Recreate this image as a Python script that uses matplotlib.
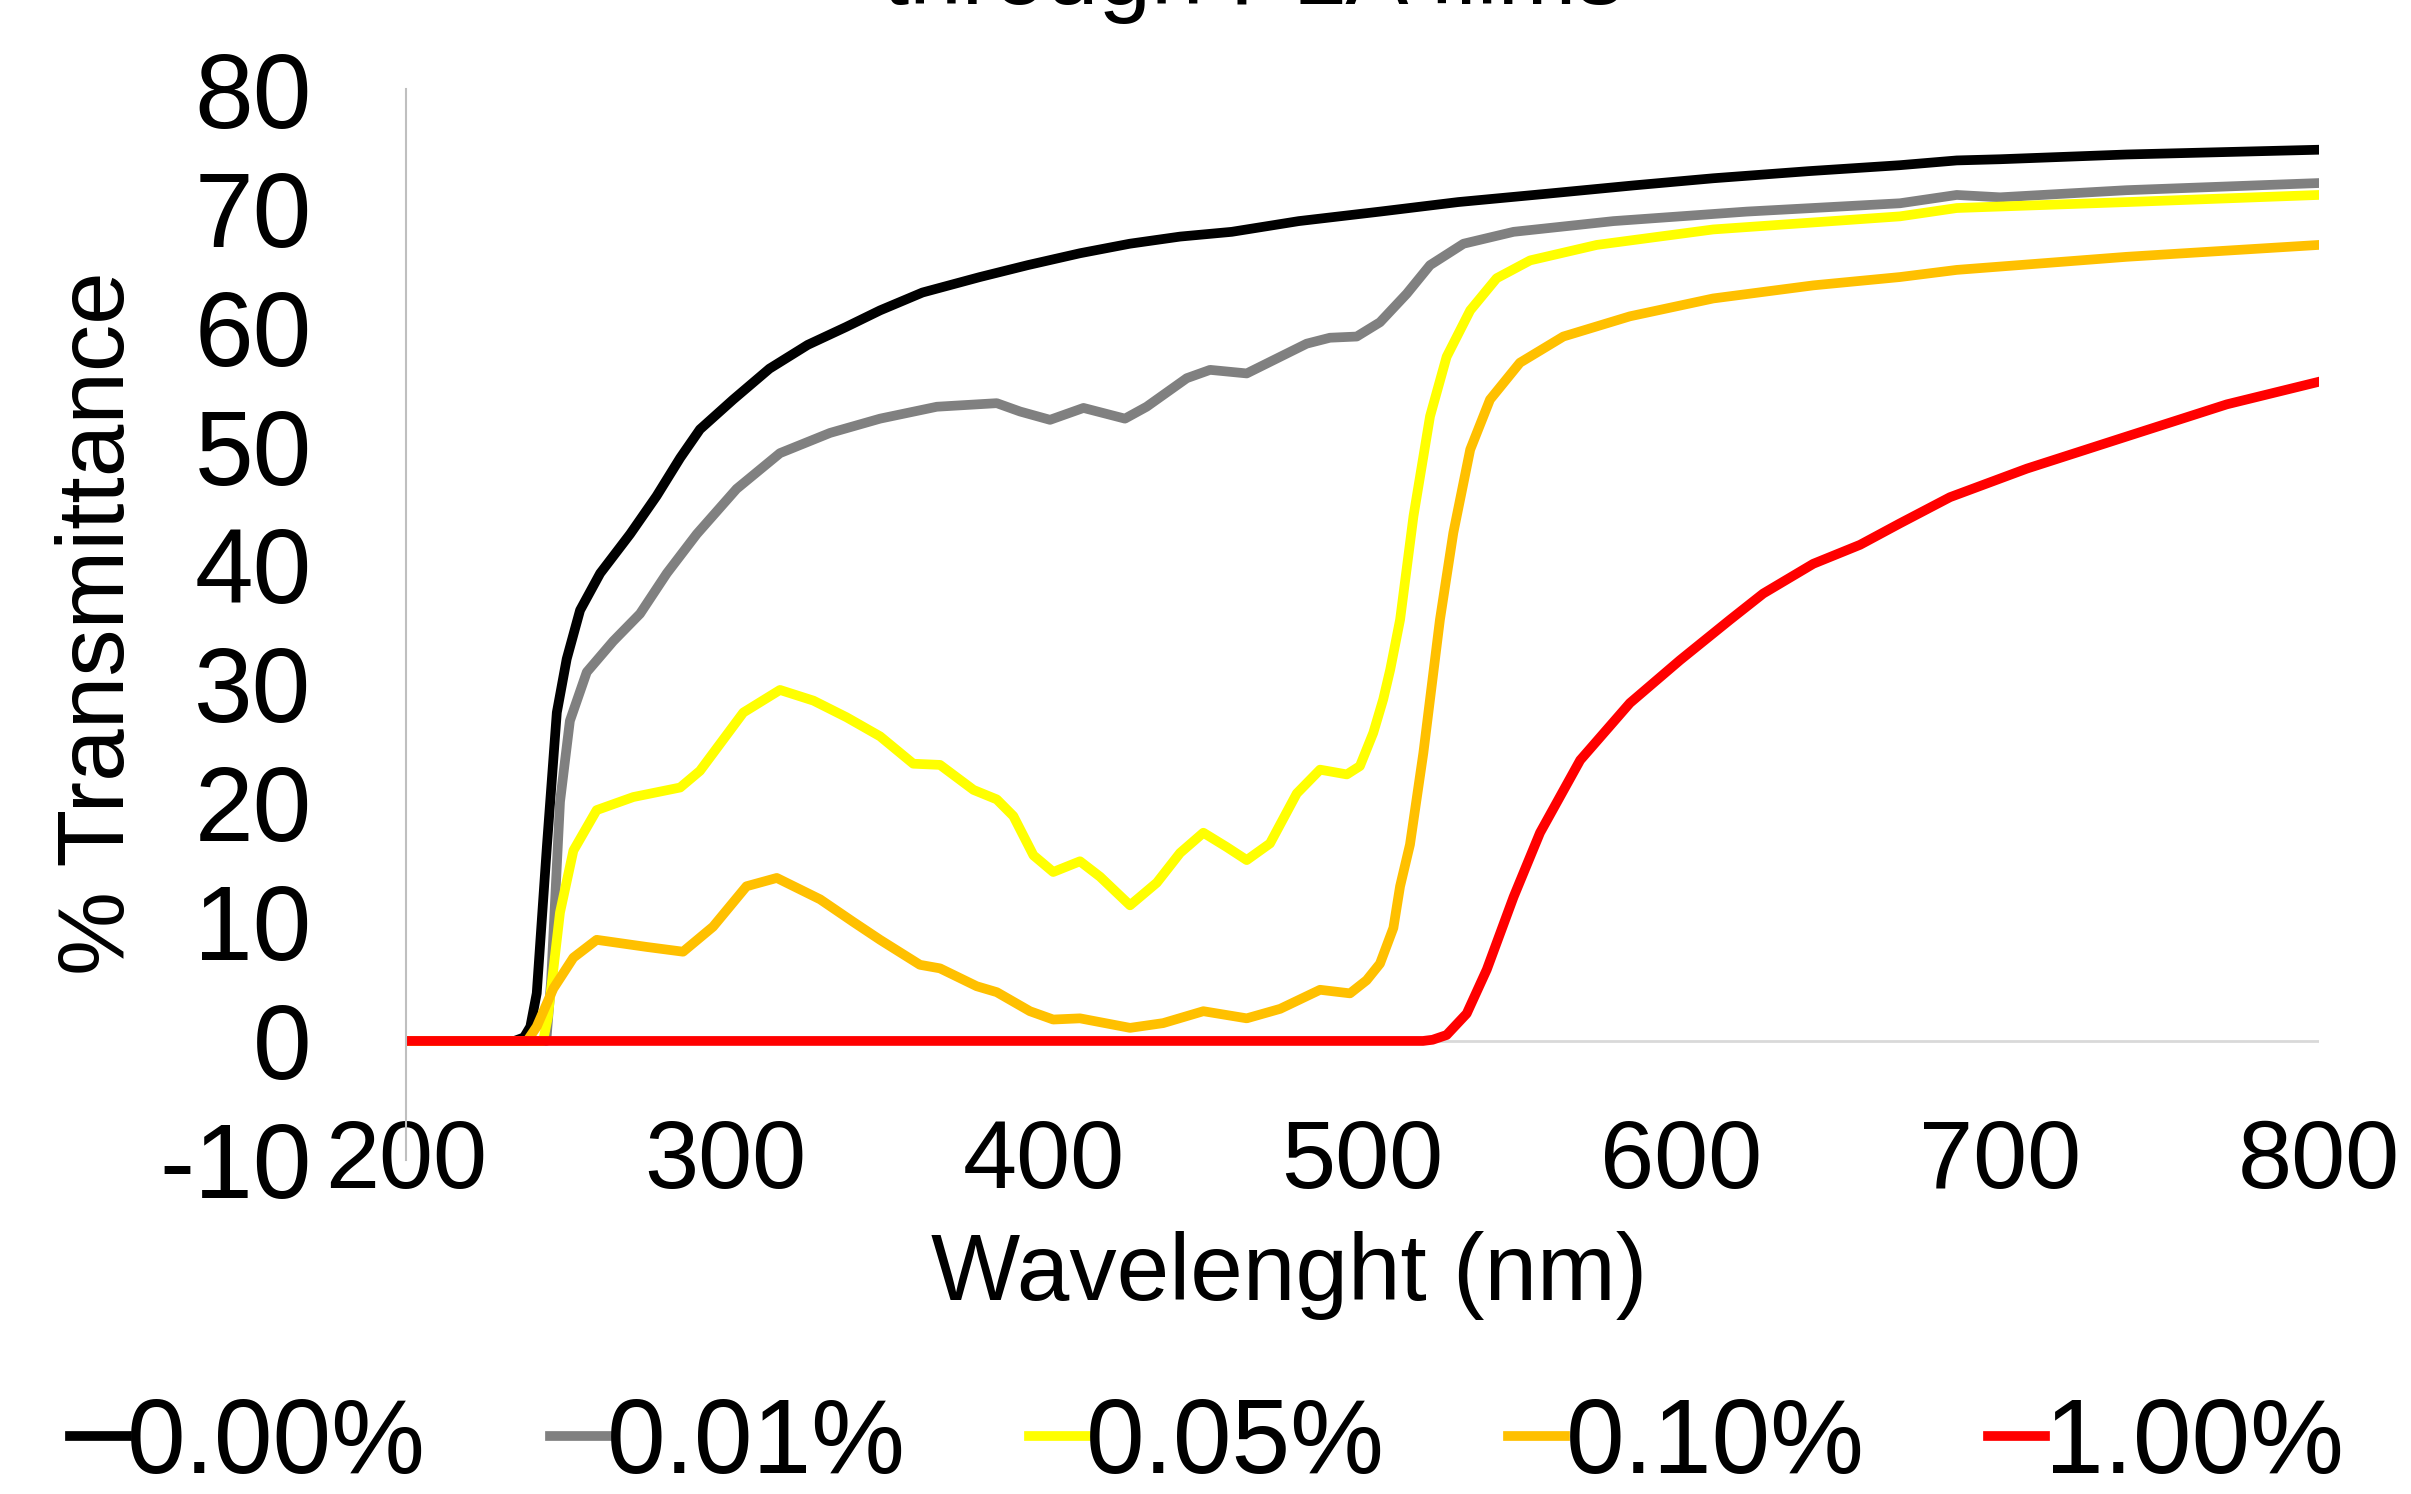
import matplotlib
matplotlib.use('Agg')
import matplotlib.pyplot as plt

# transmittance curves
wl_000 = [200, 234, 237, 239, 241, 244.2, 247.3, 250.4, 254.6, 260.9, 270.3, 278.6, 286, 292.2,
          302.6, 314, 326, 338, 348.7, 362, 380, 395, 411.4, 427, 442.8, 459, 480, 505.5, 530,
          557.8, 585, 610, 640, 668.6, 686.4, 700, 739.7, 770, 800]
t_000 = [0, 0, 0.3, 1.2, 4.0, 16.4, 27.6, 32.1, 36.2, 39.3, 42.6, 45.8, 49, 51.4,
         53.9, 56.5, 58.5, 60, 61.4, 62.9, 64.2, 65.2, 66.2, 67.0, 67.6, 68.0, 68.9, 69.7, 70.5,
         71.2, 71.9, 72.5, 73.1, 73.6, 74.0, 74.1, 74.5, 74.7, 74.9]

wl_001 = [200, 244, 245.5, 248.3, 251.4, 256.7, 265, 273.4, 281.8, 291.2, 303.7, 317.3, 333,
          348.7, 366.5, 385.3, 392.6, 402, 412.5, 425.5, 432.3, 444.9, 452.2, 463.7, 482.5,
          489.8, 498.2, 505.5, 513.9, 521.2, 531.7, 547.4, 578.7, 620.5, 668.6, 686.4, 700,
          739.7, 800]
t_001 = [0, 0, 5, 20.1, 26.9, 31, 33.6, 35.9, 39.3, 42.6, 46.4, 49.4, 51.1,
         52.3, 53.3, 53.6, 52.9, 52.2, 53.2, 52.3, 53.3, 55.7, 56.4, 56.1, 58.6,
         59.1, 59.2, 60.4, 62.8, 65.2, 67, 68, 68.9, 69.7, 70.4, 71.1, 70.9,
         71.5, 72.1]

wl_005 = [200, 243, 244.5, 246, 248.3, 252.5, 259.8, 271.3, 286, 292.2, 305.8, 317.3, 327.8,
          338.2, 348.7, 359.1, 367.5, 378, 385.3, 390.5, 396.8, 403, 411.4, 417.7, 427.1,
          435.5, 442.8, 450.1, 457.4, 463.7, 471, 479.4, 486.7, 495.1, 499.2, 503.4, 506.5,
          508.7, 511.8, 516, 521.2, 526.4, 533.8, 542.1, 552.6, 573.5, 610, 668.6, 686.4,
          739.7, 800]
t_005 = [0, 0, 2, 5.5, 10.8, 16, 19.4, 20.5, 21.3, 22.7, 27.6, 29.5, 28.6,
         27.2, 25.6, 23.3, 23.2, 21.1, 20.3, 18.9, 15.6, 14.2, 15.1, 13.8, 11.4,
         13.3, 15.8, 17.5, 16.3, 15.2, 16.6, 20.8, 22.8, 22.4, 23.1, 25.9, 28.7,
         31.2, 35.4, 44.1, 52.5, 57.5, 61.4, 64.1, 65.6, 66.9, 68.2, 69.3, 70.0,
         70.5, 71.1]

wl_010 = [200, 238, 241, 246.2, 252.5, 259.8, 275.5, 286.9, 296.3, 306.8, 316.3, 329.9, 340.3,
          348.7, 361.2, 367.5, 379, 385.3, 395.7, 403, 411.4, 427.1, 437.5, 450.1, 463.7,
          474.2, 486.7, 496.1, 501.3, 505.5, 509.7, 511.8, 514.9, 519.1, 524.3, 528.5, 533.8,
          540, 549.4, 563, 583.9, 610, 641.4, 668.6, 686.4, 739.7, 800]
t_010 = [0, 0, 1.2, 4.4, 7, 8.5, 7.9, 7.5, 9.6, 13, 13.7, 11.9, 10,
         8.5, 6.4, 6.1, 4.6, 4.1, 2.5, 1.8, 1.9, 1.1, 1.5, 2.5, 1.9,
         2.7, 4.3, 4.0, 5.1, 6.5, 9.5, 13, 16.5, 24.2, 35.4, 42.7, 49.7,
         53.9, 57, 59.2, 60.9, 62.4, 63.5, 64.2, 64.8, 65.9, 66.9]

wl_100 = [200, 519, 522, 526.4, 532.7, 539, 547.4, 555.7, 568.3, 583.9, 599.6, 615.3, 625.7,
          641.4, 656.1, 668.6, 684.3, 708.4, 739.7, 771.1, 800]
t_100 = [0, 0, 0.1, 0.5, 2.3, 6, 12.1, 17.5, 23.6, 28.4, 32, 35.4, 37.6,
         40.1, 41.7, 43.5, 45.7, 48.1, 50.8, 53.5, 55.4]

labels = ['0.00%', '0.01%', '0.05%', '0.10%', '1.00%']
colors = ['#000000', '#808080', '#FFFF00', '#FFC000', '#FF0000']
series = [(wl_000, t_000), (wl_001, t_001), (wl_005, t_005), (wl_010, t_010), (wl_100, t_100)]

x_ticks = [200, 300, 400, 500, 600, 700, 800]
y_ticks = [-10, 0, 10, 20, 30, 40, 50, 60, 70, 80]

plt.rcParams['font.family'] = ['Liberation Sans', 'DejaVu Sans']
plt.rcParams['axes.unicode_minus'] = False

fig = plt.figure(figsize=(24.11, 14.94), dpi=100)
ax = fig.add_axes([0.1684, 0.2236, 0.7934, 0.7168])

ax.axhline(0, color='#D9D9D9', lw=2, zorder=1)
for (wl, t), lab, c in zip(series, labels, colors):
    ax.plot(wl, t, color=c, lw=7, label=lab, solid_joinstyle='round', zorder=2)

ax.set_xlim(200, 800)
ax.set_ylim(-10, 80)
ax.set_xticks(x_ticks)
ax.set_yticks(y_ticks)
ax.tick_params(axis='x', length=0, pad=-30, labelsize=70)
ax.tick_params(axis='y', length=0, pad=68, labelsize=76)
for s in ['top', 'right', 'bottom']:
    ax.spines[s].set_visible(False)
ax.spines['left'].set_color('#BFBFBF')
ax.spines['left'].set_linewidth(1.5)

fig.text(100 / 2411, 1 - 623 / 1494, '% Transmittance', rotation=90,
         ha='center', va='center', fontsize=68)
fig.text(1289 / 2411, 1 - 1276 / 1494, 'Wavelenght (nm)', ha='center', va='center', fontsize=68)
# title: only the lower part of its second line shows in the original
fig.text(1253 / 2411, 1 - 4 / 1494, 'through PLA films', ha='center', va='baseline', fontsize=68)

fig.legend(loc='center', bbox_to_anchor=(1207 / 2411, 1 - 1445 / 1494), ncol=5,
           frameon=False, fontsize=76, handlelength=0.54, handletextpad=0.0,
           columnspacing=1.17, borderaxespad=0)

fig.savefig('out.png', dpi=100)
